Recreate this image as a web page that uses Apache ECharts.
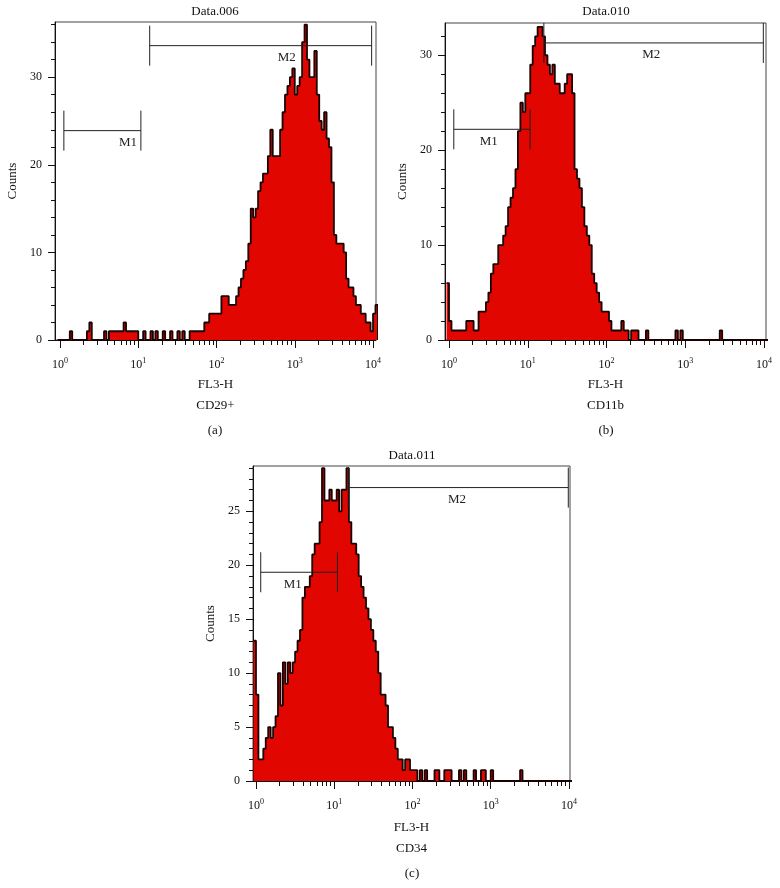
<!DOCTYPE html>
<html>
<head>
<meta charset="utf-8">
<script src="https://cdn.jsdelivr.net/npm/echarts@6/dist/echarts.min.js"></script>
<style>
  html, body { margin: 0; padding: 0; background: #fff; }
  #chart { width: 780px; height: 888px; }
</style>
</head>
<body>
<div id="chart"></div>
<script>
// counts per channel, 32 channels per decade of FL3-H
// first entry is the channel just below 10^0, then channels from 10^0 upwards
var countsA = [0,
  0, 0, 0, 0, 1, 0, 0, 0, 0, 0, 0, 1, 2, 0, 0, 0,
  0, 0, 1, 0, 1, 1, 1, 1, 1, 1, 2, 1, 1, 1, 1, 1,
  0, 0, 1, 0, 0, 1, 0, 1, 0, 0, 1, 0, 0, 1, 0, 0,
  1, 0, 1, 0, 0, 1, 1, 1, 1, 1, 1, 2, 2, 3, 3, 3,
  3, 3, 5, 5, 5, 4, 4, 4, 5, 6, 7, 8, 9, 11, 15, 14,
  15, 17, 18, 19, 19, 21, 24, 21, 21, 21, 24, 26, 28, 29, 30, 31,
  28, 29, 30, 34, 36, 32, 30, 30, 33, 28, 25, 24, 26, 23, 22, 18,
  12, 11, 11, 11, 10, 7, 6, 6, 5, 4, 4, 3, 3, 2, 2, 1,
  3, 4]
var countsB = [6,
  2, 1, 1, 1, 1, 1, 1, 2, 2, 2, 1, 1, 3, 3, 3, 4,
  5, 7, 8, 8, 10, 10, 11, 12, 14, 15, 16, 18, 22, 25, 24, 26,
  26, 29, 31, 32, 33, 33, 32, 30, 29, 28, 29, 27, 27, 26, 26, 27,
  28, 28, 26, 18, 17, 16, 14, 12, 11, 10, 7, 6, 5, 4, 3, 3,
  3, 2, 1, 1, 1, 1, 2, 1, 1, 0, 1, 1, 1, 0, 0, 0,
  1, 0, 0, 0, 0, 0, 0, 0, 0, 0, 0, 0, 1, 0, 1, 0,
  0, 0, 0, 0, 0, 0, 0, 0, 0, 0, 0, 0, 0, 0, 1, 0,
  0, 0, 0, 0, 0, 0, 0, 0, 0, 0, 0, 0, 0, 0, 0, 0,
  0, 0]
var countsC = [13,
  8, 2, 2, 3, 4, 5, 4, 5, 6, 10, 7, 11, 9, 11, 10, 11,
  12, 13, 14, 17, 18, 18, 19, 21, 22, 22, 24, 29, 26, 26, 27, 26,
  26, 27, 25, 27, 27, 29, 24, 22, 22, 21, 19, 18, 17, 16, 15, 14,
  13, 12, 10, 8, 8, 7, 5, 5, 4, 3, 2, 2, 1, 2, 2, 1,
  1, 1, 0, 1, 0, 1, 0, 0, 0, 1, 1, 0, 0, 1, 1, 1,
  0, 0, 0, 1, 0, 1, 0, 0, 0, 1, 0, 0, 1, 1, 0, 0,
  1, 0, 0, 0, 0, 0, 0, 0, 0, 0, 0, 0, 1, 0, 0, 0,
  0, 0, 0, 0, 0, 0, 0, 0, 0, 0, 0, 0, 0, 0, 0, 0,
  0, 0]

// decade exponents shown under the x axis
var xExponents = [0, 1, 2, 3, 4]
var yTicksA = [0, 10, 20, 30]
var yTicksB = [0, 10, 20, 30]
var yTicksC = [0, 5, 10, 15, 20, 25]

// markers: name, from, to, height (counts), label at (FL3-H value)
var gatesA = [['M1', 1.12, 10.8, 23.9, 7.4], ['M2', 14, 9600, 33.6, 790]]
var gatesB = [['M1', 1.15, 10.7, 22.2, 3.2], ['M2', 16, 9800, 31.3, 370]]
var gatesC = [['M1', 1.15, 11, 19.35, 2.95], ['M2', 15.1, 9800, 27.2, 370]]

var FONT = '"Liberation Serif", "DejaVu Serif", serif'
var INK = '#111'

var chart = echarts.init(document.getElementById('chart'))

function histData (counts) {
  var d = counts.map(function (c, i) { return [(i - 1) / 32, c] })
  d.push([(counts.length - 1) / 32, 0])
  return d
}

function minorX () {
  var arr = []
  for (var d = 0; d < 4; d++) {
    for (var m = 2; m <= 9; m++) arr.push(d + Math.log10(m))
  }
  return arr
}

function minorY (max, step) {
  var arr = []
  for (var v = step; v <= max; v += step) arr.push(v)
  return arr
}

function gateRenderer (gates) {
  return function (params, api) {
    var a = api.coord([api.value(0), api.value(2)])
    var b = api.coord([api.value(1), api.value(2)])
    var t = api.coord([api.value(3), api.value(2)])
    var ls = { stroke: '#222', lineWidth: 1 }
    return {
      type: 'group',
      children: [
        { type: 'line', shape: { x1: a[0], y1: a[1], x2: b[0], y2: b[1] }, style: ls },
        { type: 'line', shape: { x1: a[0], y1: a[1] - 20, x2: a[0], y2: a[1] + 20 }, style: ls },
        { type: 'line', shape: { x1: b[0], y1: b[1] - 20, x2: b[0], y2: b[1] + 20 }, style: ls },
        {
          type: 'text', x: t[0], y: t[1] + 12,
          style: {
            text: gates[params.dataIndex][0], fill: '#222', font: '13px ' + FONT,
            align: 'center', verticalAlign: 'middle', textAlign: 'center', textVerticalAlign: 'middle'
          }
        }
      ]
    }
  }
}

var panels = [
  { grid: { left: 55, top: 22, width: 321, height: 318 }, xMin: -0.064, xMax: 4.038, yMax: 36.3,
    yTicks: yTicksA, yStep: 2, counts: countsA, gates: gatesA, name: 'FL3-H\nCD29+', nameGap: 34 },
  { grid: { left: 445, top: 23, width: 321, height: 317 }, xMin: -0.051, xMax: 4.025, yMax: 33.4,
    yTicks: yTicksB, yStep: 2, counts: countsB, gates: gatesB, name: 'FL3-H\nCD11b', nameGap: 34 },
  { grid: { left: 253, top: 466, width: 317, height: 315 }, xMin: -0.038, xMax: 4.013, yMax: 29.2,
    yTicks: yTicksC, yStep: 1, counts: countsC, gates: gatesC, name: 'FL3-H\nCD34', nameGap: 36 }
]

var option = { animation: false, backgroundColor: '#fff', grid: [], xAxis: [], yAxis: [], series: [] }

panels.forEach(function (p, i) {
  option.grid.push(Object.assign({ show: true, borderColor: '#444', borderWidth: 1 }, p.grid))

  option.xAxis.push({
    gridIndex: i, type: 'value', min: p.xMin, max: p.xMax, position: 'bottom',
    axisLine: { onZero: false, lineStyle: { color: INK } },
    splitLine: { show: false },
    axisTick: { inside: false, customValues: xExponents, length: 8, lineStyle: { color: INK } },
    axisLabel: {
      customValues: xExponents, margin: 17, color: INK, fontFamily: FONT, fontSize: 12, lineHeight: 15,
      formatter: function (v) { return '10{sup|' + v + '}' },
      rich: { sup: { fontSize: 8, lineHeight: 9, verticalAlign: 'top', fontFamily: FONT, color: INK } }
    },
    name: p.name, nameLocation: 'middle', nameGap: p.nameGap,
    nameTextStyle: { fontFamily: FONT, fontSize: 13, lineHeight: 21, color: INK }
  })
  option.xAxis.push({
    gridIndex: i, type: 'value', min: p.xMin, max: p.xMax, position: 'bottom', offset: 0,
    axisLine: { show: false, onZero: false }, splitLine: { show: false }, axisLabel: { show: false },
    axisTick: { inside: false, customValues: minorX(), length: 5, lineStyle: { color: INK } }
  })

  option.yAxis.push({
    gridIndex: i, type: 'value', min: 0, max: p.yMax, position: 'left',
    axisLine: { show: true, onZero: false, lineStyle: { color: INK } },
    splitLine: { show: false },
    axisTick: { show: true, inside: false, customValues: p.yTicks, length: 7, lineStyle: { color: INK } },
    axisLabel: { customValues: p.yTicks, margin: 13, color: INK, fontFamily: FONT, fontSize: 12 },
    name: 'Counts', nameLocation: 'middle', nameGap: 36,
    nameTextStyle: { fontFamily: FONT, fontSize: 13, color: INK }
  })
  option.yAxis.push({
    gridIndex: i, type: 'value', min: 0, max: p.yMax, position: 'left', offset: 0,
    axisLine: { show: false, onZero: false }, splitLine: { show: false }, axisLabel: { show: false },
    axisTick: { show: true, inside: false, customValues: minorY(p.yMax, p.yStep), length: 4, lineStyle: { color: INK } }
  })

  option.series.push({
    type: 'line', xAxisIndex: 2 * i, yAxisIndex: 2 * i,
    data: histData(p.counts), step: 'end', symbol: 'none',
    lineStyle: { color: '#1a0202', width: 1.8 },
    areaStyle: { color: '#e10600', opacity: 1 }
  })
  option.series.push({
    type: 'custom', xAxisIndex: 2 * i, yAxisIndex: 2 * i, z: 5,
    data: p.gates.map(function (g) { return [Math.log10(g[1]), Math.log10(g[2]), g[3], Math.log10(g[4])] }),
    renderItem: gateRenderer(p.gates)
  })
})

var textStyle = { fill: INK, font: '13px ' + FONT, align: 'center', verticalAlign: 'middle', textAlign: 'center', textVerticalAlign: 'middle' }
option.graphic = [
  ['Data.006', 215, 12], ['Data.010', 606, 12], ['Data.011', 412, 456],
  ['(a)', 215, 431], ['(b)', 606, 431], ['(c)', 412, 874]
].map(function (t) {
  return { type: 'text', x: t[1], y: t[2], style: Object.assign({ text: t[0] }, textStyle) }
})

chart.setOption(option)
</script>
</body>
</html>
